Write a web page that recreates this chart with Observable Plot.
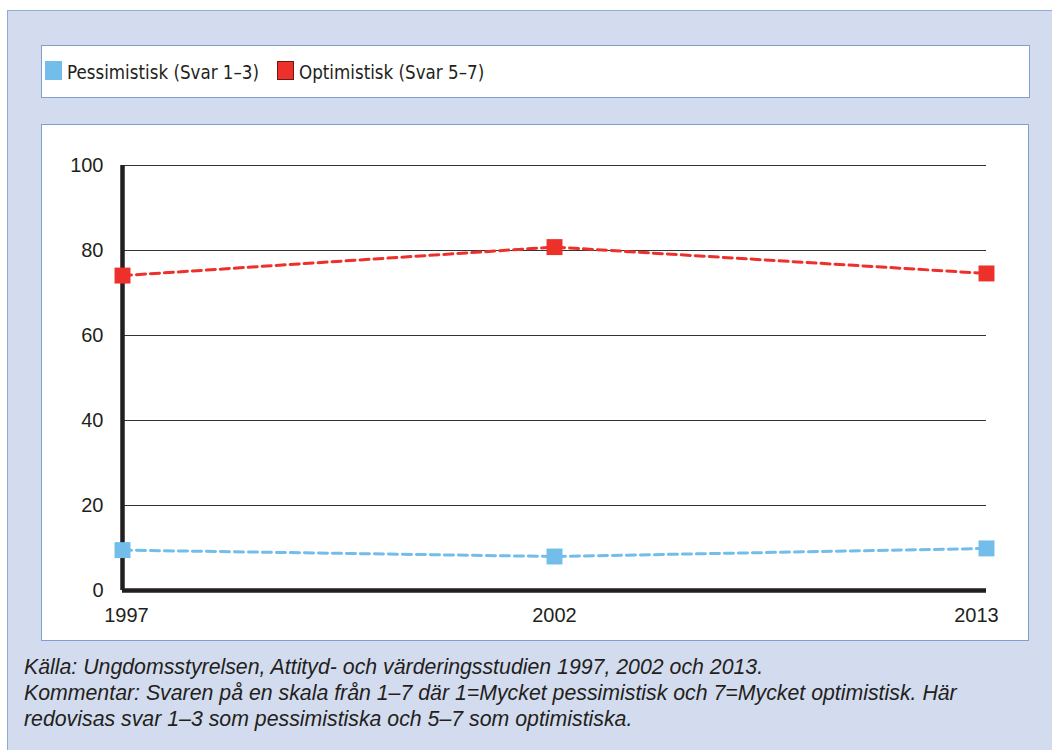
<!DOCTYPE html>
<html>
<head>
<meta charset="utf-8">
<script src="https://cdn.jsdelivr.net/npm/d3@7"></script>
<script src="https://cdn.jsdelivr.net/npm/@observablehq/plot@0.6"></script>
<style>
  html, body { margin: 0; padding: 0; background: #ffffff; width: 1052px; height: 750px; overflow: hidden; }
  #frame { position: absolute; left: 7px; top: 10px; width: 1100px; height: 800px; background: #d3dcee; border: 1px solid #8eabd6; }
  #legend { position: absolute; left: 41px; top: 45px; width: 987px; height: 51px; background: #fff; border: 1px solid #7f9fd0; }
  #chart { position: absolute; left: 41px; top: 124px; width: 986px; height: 515px; background: #fff; border: 1px solid #7f9fd0; }
  .sw { position: absolute; top: 15px; width: 17px; height: 19px; box-sizing: border-box; }
  .lt { position: absolute; top: 17px; font-family: "DejaVu Sans Condensed", "DejaVu Sans", sans-serif; font-stretch: condensed; font-size: 18.6px; color: #231f20; white-space: nowrap; line-height: 20px; }
  #caption { position: absolute; left: 24px; top: 654px; font-family: "Liberation Sans", Arial, sans-serif; font-style: italic; font-size: 21.3px; line-height: 26px; color: #231f20; white-space: nowrap; }
</style>
</head>
<body>
<div id="frame"></div>
<div id="legend"></div>
<div id="chart"></div>
<div id="caption"></div>
<script>
const years = ["1997", "2002", "2013"];
const pessimistisk = [9.5, 8.0, 9.9];
const optimistisk = [74.1, 80.8, 74.6];
const yTicks = [0, 20, 40, 60, 80, 100];
const seriesNames = ["Pessimistisk (Svar 1–3)", "Optimistisk (Svar 5–7)"];
const seriesColors = ["#72bde9", "#ee302b"];
const captionLines = [
  "Källa: Ungdomsstyrelsen, Attityd- och värderingsstudien 1997, 2002 och 2013.",
  "Kommentar: Svaren på en skala från 1–7 där 1=Mycket pessimistisk och 7=Mycket optimistisk. Här",
  "redovisas svar 1–3 som pessimistiska och 5–7 som optimistiska."
];

const pessData = years.map((y, i) => ({year: y, value: pessimistisk[i]}));
const optData = years.map((y, i) => ({year: y, value: optimistisk[i]}));

// Legend
const legend = document.getElementById("legend");
const swLeft = [3, 235];
const txtLeft = [25, 257];
seriesNames.forEach((name, i) => {
  const sw = document.createElement("div");
  sw.className = "sw";
  sw.style.left = swLeft[i] + "px";
  sw.style.background = seriesColors[i];
  if (i === 1) sw.style.border = "1px solid #6b1a17";
  legend.appendChild(sw);
  const t = document.createElement("div");
  t.className = "lt";
  t.style.left = txtLeft[i] + "px";
  t.textContent = name;
  legend.appendChild(t);
});

// Caption
document.getElementById("caption").innerHTML = captionLines.map(l => `<div>${l}</div>`).join("");

const plot = Plot.plot({
  width: 986,
  height: 515,
  marginLeft: 80,
  marginRight: 42,
  marginTop: 40,
  marginBottom: 50,
  style: {background: "#fff", fontFamily: "'Liberation Sans', Arial, sans-serif", color: "#231f20"},
  x: {type: "point", domain: years, padding: 0},
  y: {domain: [0, 100]},
  marks: [
    Plot.ruleY(yTicks.filter(d => d > 0), {stroke: "#333", strokeWidth: 1}),
    Plot.ruleX([years[0]], {y1: 0, y2: 100, stroke: "#231f20", strokeWidth: 4.5}),
    Plot.ruleY([0], {stroke: "#231f20", strokeWidth: 4.5}),
    Plot.axisY({ticks: yTicks, tickSize: 0, tickPadding: 19, fontSize: 20, label: null}),
    Plot.axisX([years[0]], {tickSize: 0, tickPadding: 17, fontSize: 20, label: null, dx: 4}),
    Plot.axisX([years[1]], {tickSize: 0, tickPadding: 17, fontSize: 20, label: null}),
    Plot.axisX([years[2]], {tickSize: 0, tickPadding: 17, fontSize: 20, label: null, dx: -10}),
    Plot.line(pessData, {x: "year", y: "value", stroke: seriesColors[0], strokeWidth: 3, strokeDasharray: "9,5"}),
    Plot.line(optData, {x: "year", y: "value", stroke: seriesColors[1], strokeWidth: 3, strokeDasharray: "9,5"}),
    Plot.dot(pessData, {x: "year", y: "value", symbol: "square", r: 9, fill: seriesColors[0]}),
    Plot.dot(optData, {x: "year", y: "value", symbol: "square", r: 9, fill: seriesColors[1]})
  ]
});
document.getElementById("chart").appendChild(plot);
</script>
</body>
</html>
